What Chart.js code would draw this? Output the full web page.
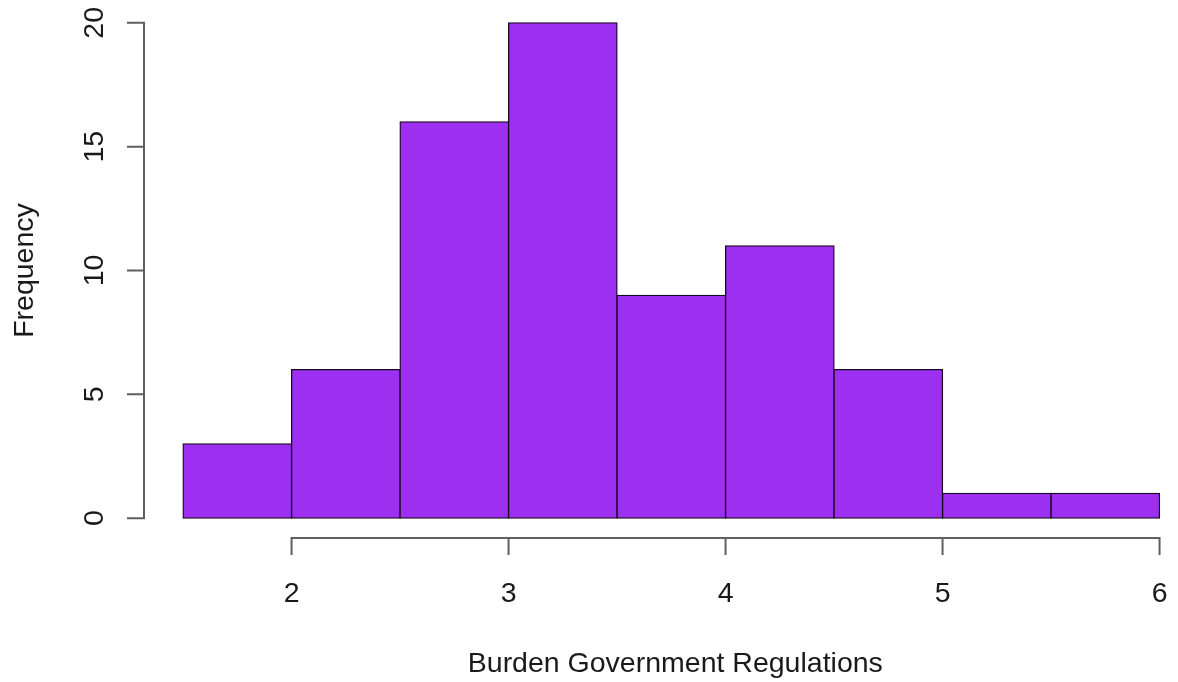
<!DOCTYPE html>
<html>
<head>
<meta charset="utf-8">
<title>Burden Government Regulations</title>
<script src="https://cdn.jsdelivr.net/npm/chart.js@4.4.1/dist/chart.umd.min.js"></script>
<style>
    html, body { margin: 0; padding: 0; background: #ffffff; }
    canvas { display: block; }
</style>
</head>
<body>
<canvas id="hist" width="1178" height="682"></canvas>
<script>
// histogram bins (left edges) and counts
const binStarts = [1.5, 2, 2.5, 3, 3.5, 4, 4.5, 5, 5.5];
const binWidth = 0.5;
const counts = [3, 6, 16, 20, 9, 11, 6, 1, 1];

// axis ticks
const xTicks = [2, 3, 4, 5, 6];
const yTicks = [0, 5, 10, 15, 20];

const xTitle = 'Burden Government Regulations';
const yTitle = 'Frequency';

// plot region limits (R style: 4% padding around the data range)
const X_MIN = 1.32;
const X_MAX = 6.085;
const X_MID = 3.75;
const Y_MIN = -0.8;
const Y_MAX = 20.8;

const FONT = '28.5px "Liberation Sans", Arial, Helvetica, sans-serif';
const TEXT_COLOR = '#1a1a1a';
const AXIS_COLOR = '#5f5f5f';
const TICK_LEN = 17;

const histData = binStarts.map((b, i) => ({ x: b + binWidth / 2, y: counts[i] }));

// draws base-graphics style axes: lines only span the tick range
const baseAxes = {
    id: 'baseAxes',
    afterDraw(chart) {
        const ctx = chart.ctx;
        const xs = chart.scales.x;
        const ys = chart.scales.y;
        const area = chart.chartArea;

        ctx.save();
        ctx.strokeStyle = AXIS_COLOR;
        ctx.lineWidth = 2;
        ctx.lineCap = 'butt';

        // y axis
        const yx = area.left;
        ctx.beginPath();
        ctx.moveTo(yx, ys.getPixelForValue(yTicks[0]));
        ctx.lineTo(yx, ys.getPixelForValue(yTicks[yTicks.length - 1]));
        yTicks.forEach(v => {
            const py = ys.getPixelForValue(v);
            ctx.moveTo(yx + 1, py);
            ctx.lineTo(yx - TICK_LEN, py);
        });
        ctx.stroke();

        // x axis
        const xy = area.bottom;
        ctx.beginPath();
        ctx.moveTo(xs.getPixelForValue(xTicks[0]), xy);
        ctx.lineTo(xs.getPixelForValue(xTicks[xTicks.length - 1]), xy);
        xTicks.forEach(v => {
            const px = xs.getPixelForValue(v);
            ctx.moveTo(px, xy - 1);
            ctx.lineTo(px, xy + TICK_LEN);
        });
        ctx.stroke();

        ctx.fillStyle = TEXT_COLOR;
        ctx.font = FONT;

        // x tick labels
        ctx.textAlign = 'center';
        ctx.textBaseline = 'alphabetic';
        xTicks.forEach(v => {
            ctx.fillText(String(v), xs.getPixelForValue(v), 602);
        });

        // x title
        ctx.fillText(xTitle, xs.getPixelForValue(X_MID) + 4, 672);

        // y tick labels, rotated
        yTicks.forEach(v => {
            ctx.save();
            ctx.translate(103, ys.getPixelForValue(v));
            ctx.rotate(-Math.PI / 2);
            ctx.fillText(String(v), 0, 0);
            ctx.restore();
        });

        // y title
        ctx.save();
        ctx.translate(33, (ys.getPixelForValue(yTicks[0]) + ys.getPixelForValue(yTicks[yTicks.length - 1])) / 2);
        ctx.rotate(-Math.PI / 2);
        ctx.fillText(yTitle, 0, 0);
        ctx.restore();

        ctx.restore();
    }
};

new Chart(document.getElementById('hist'), {
    type: 'bar',
    data: {
        datasets: [{
            label: yTitle,
            data: histData,
            backgroundColor: '#9d2ff0',
            borderColor: '#16081f',
            borderWidth: 1.3,
            borderSkipped: false,
            barPercentage: 1,
            categoryPercentage: 1,
            inflateAmount: 0.6
        }]
    },
    options: {
        responsive: false,
        animation: false,
        layout: {
            padding: { left: 144, right: 0, top: 3, bottom: 682 - 538 }
        },
        plugins: {
            legend: { display: false },
            tooltip: { enabled: false },
            title: { display: false }
        },
        scales: {
            x: {
                type: 'linear',
                display: false,
                offset: false,
                min: X_MIN,
                max: X_MAX
            },
            y: {
                type: 'linear',
                display: false,
                min: Y_MIN,
                max: Y_MAX
            }
        }
    },
    plugins: [baseAxes]
});
</script>
</body>
</html>
